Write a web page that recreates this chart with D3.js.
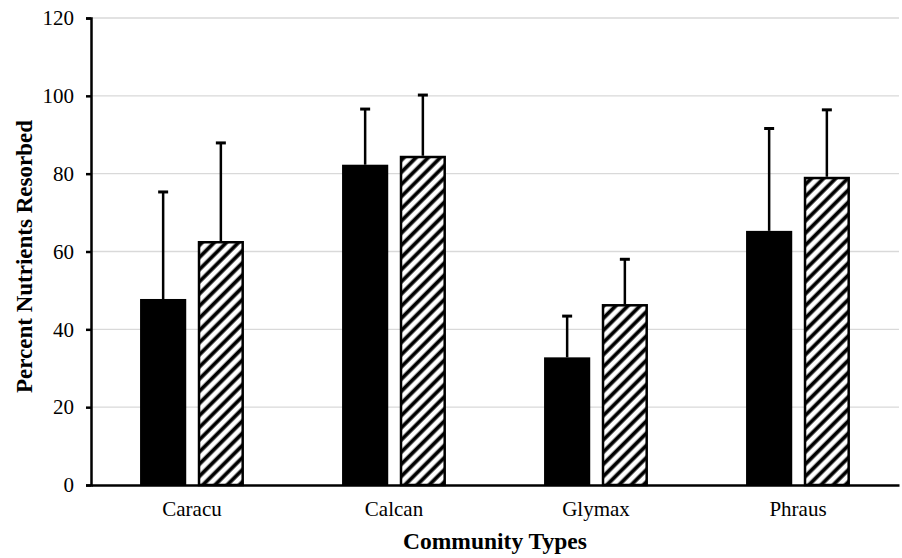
<!DOCTYPE html>
<html>
<head>
<meta charset="utf-8">
<script src="https://cdn.jsdelivr.net/npm/d3@7"></script>
<style>
  body { margin: 0; background: #fff; }
  svg { display: block; font-family: "Liberation Serif", "Times New Roman", serif; }
</style>
</head>
<body>
<svg width="902" height="558"></svg>
<script>
// values
const categories = ["Caracu", "Calcan", "Glymax", "Phraus"]
const seriesNames = ["solid", "hatched"]
const solidValues = [47.8, 82.3, 32.8, 65.3]
const solidErrors = [27.5, 14.3, 10.6, 26.3]
const hatchedValues = [62.7, 84.6, 46.5, 79.2]
const hatchedErrors = [25.2, 15.6, 11.5, 17.2]
const yTicks = [0, 20, 40, 60, 80, 100, 120]

const data = []
categories.forEach((c, i) => {
  data.push({ cat: c, series: "solid", value: solidValues[i], err: solidErrors[i] })
  data.push({ cat: c, series: "hatched", value: hatchedValues[i], err: hatchedErrors[i] })
})

const svg = d3.select('svg')

const plotLeft = 91, plotRight = 899, plotTop = 18, plotBottom = 485

const scaleX = d3.scaleBand()
  .domain(categories)
  .range([plotLeft, plotRight])

const scaleInner = d3.scaleBand()
  .domain(seriesNames)
  .range([0, scaleX.bandwidth()])
  .paddingInner(0.2)
  .paddingOuter(0.85)

const scaleY = d3.scaleLinear()
  .domain([0, 120])
  .range([plotBottom, plotTop])

// hatch pattern
const hatchStep = 8.6
const defs = svg.append("defs")
const pat = defs.append("pattern")
  .attr("id", "hatch")
  .attr("patternUnits", "userSpaceOnUse")
  .attr("width", hatchStep)
  .attr("height", hatchStep)
  .attr("patternTransform", "rotate(45)")
pat.append("rect")
  .attr("width", hatchStep)
  .attr("height", hatchStep)
  .attr("fill", "#fff")
pat.append("line")
  .attr("x1", 2.5).attr("y1", 0)
  .attr("x2", 2.5).attr("y2", hatchStep)
  .attr("stroke", "#000")
  .attr("stroke-width", 3.8)

// gridlines
svg.append("g")
  .attr("class", "grid")
  .selectAll("line")
  .data(yTicks.filter(d => d > 0))
  .enter()
  .append("line")
  .attr("x1", plotLeft)
  .attr("x2", plotRight)
  .attr("y1", d => scaleY(d))
  .attr("y2", d => scaleY(d))
  .attr("stroke", "#d9d9d9")
  .attr("stroke-width", 1.3)

// bars
const groups = svg.selectAll("g.bar")
  .data(data)
  .enter()
  .append("g")
  .attr("class", "bar")
  .attr("transform", d => `translate(${scaleX(d.cat) + scaleInner(d.series)}, 0)`)

const bw = scaleInner.bandwidth()

groups.append("rect")
  .attr("x", d => d.series === "hatched" ? 1.25 : 0)
  .attr("width", d => d.series === "hatched" ? bw - 2.5 : bw)
  .attr("y", d => scaleY(d.value) + (d.series === "hatched" ? 1.25 : 0))
  .attr("height", d => plotBottom - scaleY(d.value) - (d.series === "hatched" ? 1.25 : 0))
  .attr("fill", d => d.series === "hatched" ? "url(#hatch)" : "#000")
  .attr("stroke", d => d.series === "hatched" ? "#000" : "none")
  .attr("stroke-width", 2.5)

// error bars (upper only)
groups.append("line")
  .attr("x1", bw / 2)
  .attr("x2", bw / 2)
  .attr("y1", d => scaleY(d.value))
  .attr("y2", d => scaleY(d.value + d.err))
  .attr("stroke", "#000")
  .attr("stroke-width", 2.5)

groups.append("line")
  .attr("x1", bw / 2 - 5)
  .attr("x2", bw / 2 + 5)
  .attr("y1", d => scaleY(d.value + d.err))
  .attr("y2", d => scaleY(d.value + d.err))
  .attr("stroke", "#000")
  .attr("stroke-width", 3)

// axes
const axisY = d3.axisLeft(scaleY)
  .tickValues(yTicks)
  .tickSizeInner(5)
  .tickSizeOuter(5)
  .tickPadding(12)

const axisYGroup = svg.append("g")
  .attr("class", "y-axis")
  .attr("transform", `translate(${plotLeft}, 0)`)
  .call(axisY)

axisYGroup.select(".domain").attr("stroke-width", 2.5)
axisYGroup.selectAll(".tick line").attr("stroke-width", 2.5)
axisYGroup.selectAll("text")
  .attr("font-size", 21)
  .attr("font-family", "Liberation Serif")
  .attr("fill", "#000")

const axisX = d3.axisBottom(scaleX)
  .tickSize(0)
  .tickPadding(16)

const axisXGroup = svg.append("g")
  .attr("class", "x-axis")
  .attr("transform", `translate(0, ${plotBottom})`)
  .call(axisX)

axisXGroup.select(".domain").attr("stroke-width", 2.5)
axisXGroup.selectAll("text")
  .attr("font-size", 21)
  .attr("font-family", "Liberation Serif")
  .attr("fill", "#000")

// titles
svg.append("text")
  .attr("x", (plotLeft + plotRight) / 2)
  .attr("y", 549)
  .attr("text-anchor", "middle")
  .attr("font-weight", "bold")
  .attr("font-size", 23.5)
  .text("Community Types")

svg.append("text")
  .attr("transform", `translate(32, ${(plotTop + plotBottom) / 2 + 5}) rotate(-90)`)
  .attr("text-anchor", "middle")
  .attr("font-weight", "bold")
  .attr("font-size", 23)
  .text("Percent Nutrients Resorbed")
</script>
</body>
</html>
